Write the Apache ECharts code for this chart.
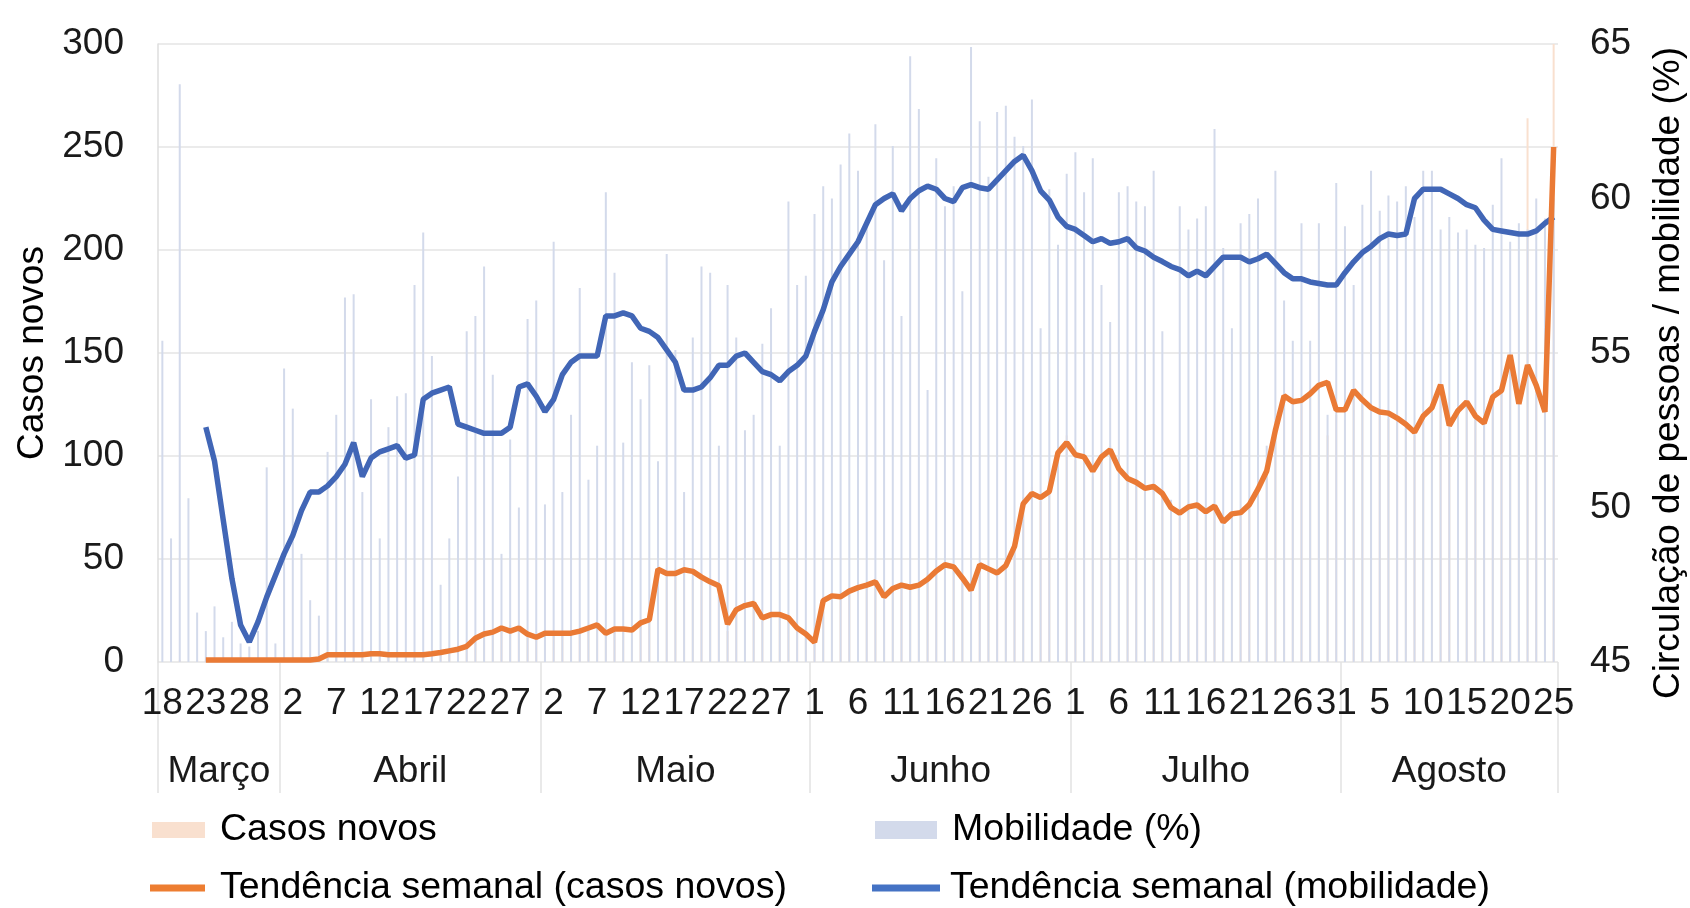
<!DOCTYPE html>
<html>
<head>
<meta charset="utf-8">
<script src="https://cdn.jsdelivr.net/npm/echarts@6/dist/echarts.min.js"></script>
<style>
html,body{margin:0;padding:0;background:#fff;}
#chart{width:1690px;height:908px;}
</style>
</head>
<body>
<div id="chart"></div>
<script>
// ---- DATA ----
const monthNames = ['Março','Abril','Maio','Junho','Julho','Agosto'];
const monthDays = [14, 30, 31, 30, 31, 25];   // days shown per month (18 Mar – 25 Ago)
const firstDay = 18;

// Daily new cases (bars, left axis)
const casosNovos = [
  0,0,1,0,1,
  1,2,0,1,1,2,1,0,1,2,1,1,2,2,
  3,4,5,3,2,4,5,3,4,3,4,3,
  5,4,6,7,9,12,14,
  13,15,18,14,12,11,15,13,14,16,15,17,19,13,16,17,14,18,21,
  50,42,45,48,40,42,38,35,
  15,26,28,30,20,24,22,20,15,12,9,
  32,30,33,36,35,38,40,30,36,38,35,37,42,45,48,44,38,33,48,45,42,47,
  60,80,85,78,84,105,110,98,100,90,100,105,92,88,86,84,86,
  80,60,70,77,74,72,76,66,70,74,78,82,90,115,130,125,128,132,130,110,120,
  124,132,128,122,120,118,116,114,110,120,122,135,115,120,126,118,116,130,132,150,125,
  264,135,120,300
];

// Daily mobility (%) (bars, right axis)
const mobilidade = [
  55.4,49.0,63.7,50.3,46.6,46.0,46.8,45.8,46.3,45.6,
  45.5,46.0,51.3,45.6,54.5,53.2,48.5,47.0,46.5,51.8,
  53.0,56.8,56.9,50.5,53.5,49.0,52.6,53.6,53.7,57.2,
  58.9,54.9,47.5,49.0,51.0,55.7,56.2,57.8,54.3,48.5,
  52.2,50.0,56.1,56.7,50.1,58.6,50.5,53.0,57.1,50.9,
  52.0,60.2,57.6,52.1,54.7,53.5,54.6,51.5,58.2,55.1,
  50.5,55.5,57.8,57.6,52.0,57.2,55.5,52.5,53.0,55.3,
  56.45,52.0,59.9,57.2,57.5,59.5,60.4,60.0,61.1,62.1,
  60.9,59.1,62.4,58.0,61.7,56.2,64.6,62.9,53.8,61.3,
  59.75,60.4,57.0,64.9,62.5,60.7,62.8,63.0,62.0,61.7,
  63.2,55.8,60.3,58.5,60.8,61.5,60.2,61.3,57.2,56.0,
  60.2,60.4,59.9,59.75,60.9,55.7,50.25,59.75,59.0,59.35,
  59.75,62.25,58.4,55.8,59.2,59.5,60.0,52.0,60.9,56.7,
  55.4,59.2,55.4,59.2,53.0,60.5,59.1,57.2,59.8,60.9,
  59.6,60.1,59.9,60.4,59.4,60.9,60.9,59.0,59.4,58.9,
  59.0,58.5,58.4,59.8,61.3,58.6,59.2,59.0,60.0,59.35,
  60.0
];

// Weekly trend of new cases (left axis)
const tendCasos = [
  null,null,null,null,null,
  1,1,1,1,1,1,1,1,1,1,1,1,1,1.5,
  3.5,3.5,3.5,3.5,3.5,4,4,3.5,3.5,3.5,3.5,3.5,
  4,4.6,5.4,6.2,7.6,11.5,13.6,
  14.5,16.5,15,16.5,13.5,12,14,14,14,14,15,16.5,18,14,16,16,15.5,19,20.5,
  45,43,43,44.8,44,41.2,38.9,37,
  18.4,25.4,27.4,28.4,21.4,23,23,21.4,16.5,13.6,9.6,
  29.8,32.1,31.7,34.4,36.1,37.3,38.9,31.7,35.7,37.3,36.3,37.3,40.2,44.2,47.2,46.2,40.8,34.9,47.2,45.2,43.2,46.8,
  56.1,76.8,81.8,79.8,82.8,101.6,106.5,100.6,99.6,92.7,99.6,103,93.7,89.1,87.2,84.3,85.2,
  81.8,74.9,72.3,75.3,76.2,72.9,75.7,68,71.9,72.5,76.4,83.9,92.7,112.5,129.2,126.3,127,130.2,134.3,135.8,122.4,
  122.4,131.8,127.3,123.4,121.4,120.8,118.4,115.4,111.5,119.4,123.4,134.6,114.8,122,126.3,119.4,116,128.7,131.8,149,125.3,
  144.1,134.3,121.4,250
];

// Weekly trend of mobility (right axis)
const tendMob = [
  null,null,null,null,null,
  52.6,51.5,49.6,47.7,46.2,45.65,46.3,47.1,47.8,48.5,
  49.1,49.9,50.5,50.5,50.7,51.0,51.4,52.1,51.0,51.6,
  51.8,51.9,52.0,51.6,51.7,53.5,53.7,53.8,53.9,52.7,
  52.6,52.5,52.4,52.4,52.4,52.6,53.9,54.0,53.6,53.1,
  53.5,54.3,54.7,54.9,54.9,54.9,56.2,56.2,56.3,56.2,
  55.8,55.7,55.5,55.1,54.7,53.8,53.8,53.9,54.2,54.6,
  54.6,54.9,55.0,54.7,54.4,54.3,54.1,54.4,54.6,54.9,
  55.7,56.4,57.3,57.8,58.2,58.6,59.2,59.8,60.0,60.15,
  59.6,60.0,60.25,60.4,60.3,60.0,59.9,60.35,60.45,60.35,
  60.3,60.6,60.9,61.2,61.4,60.9,60.25,59.95,59.4,59.1,
  59.0,58.8,58.6,58.7,58.55,58.6,58.7,58.4,58.3,58.1,
  57.96,57.8,57.7,57.5,57.65,57.5,57.8,58.1,58.1,58.1,
  57.95,58.05,58.2,57.9,57.6,57.4,57.4,57.3,57.25,57.2,
  57.2,57.6,57.95,58.25,58.45,58.7,58.85,58.8,58.85,60.0,
  60.3,60.3,60.3,60.15,60.0,59.8,59.7,59.3,59.0,58.95,
  58.9,58.85,58.85,58.95,59.2,59.4
];

const leftTicks = {min: 0, max: 300, interval: 50};
const rightTicks = {min: 45, max: 65, interval: 5};

// ---- derived categories ----
const dayLabels = [];
const monthStarts = [];
const monthMids = [];
let idx = 0;
monthDays.forEach((n, m) => {
  monthStarts.push(idx);
  monthMids.push(idx + n / 2);
  const start = (m === 0) ? firstDay : 1;
  for (let d = 0; d < n; d++) dayLabels.push(String(start + d));
  idx += n;
});
monthStarts.push(idx);
const total = idx;

const FONT = 'Liberation Sans, Arial, Helvetica, sans-serif';
const TXT = '#1a1a1a';
const FS = 37;
const LFS = 37.5;

const chart = echarts.init(document.getElementById('chart'), null, {renderer: 'canvas'});
chart.setOption({
  backgroundColor: '#ffffff',
  animation: false,
  textStyle: {fontFamily: FONT},
  grid: {left: 158, right: 132, top: 44, bottom: 246, outerBoundsMode: 'none'},
  legend: [
    {left: 152, top: 810, padding: 0, selectedMode: false, itemWidth: 53, itemHeight: 16,
     data: [{name: 'Casos novos', icon: 'rect'}],
     textStyle: {fontSize: LFS, color: '#000', fontFamily: FONT, padding: [0,0,0,10], lineHeight: 40}},
    {left: 875, top: 810, padding: 0, selectedMode: false, itemWidth: 62, itemHeight: 18,
     data: [{name: 'Mobilidade (%)', icon: 'rect'}],
     textStyle: {fontSize: LFS, color: '#000', fontFamily: FONT, padding: [0,0,0,10], lineHeight: 40}},
    {left: 150, top: 868, padding: 0, selectedMode: false, itemWidth: 55, itemHeight: 7,
     data: [{name: 'Tendência semanal (casos novos)', icon: 'rect'}],
     textStyle: {fontSize: LFS, color: '#000', fontFamily: FONT, padding: [0,0,0,10], lineHeight: 40}},
    {left: 872, top: 868, padding: 0, selectedMode: false, itemWidth: 68, itemHeight: 7,
     data: [{name: 'Tendência semanal (mobilidade)', icon: 'rect'}],
     textStyle: {fontSize: LFS, color: '#000', fontFamily: FONT, padding: [0,0,0,5], lineHeight: 40}}
  ],
  xAxis: [
    {
      type: 'category', data: dayLabels, boundaryGap: true,
      axisLine: {show: false}, axisTick: {show: false},
      axisLabel: {interval: 4, fontSize: FS, color: TXT, margin: 23, fontFamily: FONT, hideOverlap: false},
      splitLine: {show: false}
    },
    {
      type: 'value', min: 0, max: total, position: 'bottom',
      axisLine: {show: false},
      splitLine: {show: false},
      axisTick: {show: true, customValues: monthStarts, length: 131, inside: false,
                 lineStyle: {color: '#e2e2e2', width: 1.5}},
      axisLabel: {customValues: monthMids, fontSize: FS, color: TXT, margin: 91, fontFamily: FONT,
        formatter: function (v) {
          for (let i = 0; i < monthMids.length; i++) if (Math.abs(monthMids[i] - v) < 0.01) return monthNames[i];
          return '';
        }}
    }
  ],
  yAxis: [
    {
      type: 'value', position: 'left', min: leftTicks.min, max: leftTicks.max, interval: leftTicks.interval,
      name: 'Casos novos', nameLocation: 'middle', nameGap: 104,
      nameTextStyle: {fontSize: FS, color: '#000', fontFamily: FONT},
      axisLine: {show: true, lineStyle: {color: '#dedede', width: 1.5}},
      axisTick: {show: false},
      axisLabel: {fontSize: FS, color: TXT, margin: 34, fontFamily: FONT},
      splitLine: {show: true, lineStyle: {color: '#e4e4e4', width: 1.5}}
    },
    {
      type: 'value', position: 'right', min: rightTicks.min, max: rightTicks.max, interval: rightTicks.interval,
      name: 'Circulação de pessoas / mobilidade (%)', nameLocation: 'middle', nameGap: 92, nameRotate: 90,
      nameTextStyle: {fontSize: FS, color: '#000', fontFamily: FONT, padding: [0, 40, 0, 0]},
      axisLine: {show: false}, axisTick: {show: false},
      axisLabel: {fontSize: FS, color: TXT, margin: 32, fontFamily: FONT},
      splitLine: {show: false}
    }
  ],
  series: [
    {
      name: 'Casos novos', type: 'bar', xAxisIndex: 0, yAxisIndex: 0, data: casosNovos,
      barWidth: 2, barGap: '-100%', itemStyle: {color: '#f9e0cf'}, z: 1
    },
    {
      name: 'Mobilidade (%)', type: 'bar', xAxisIndex: 0, yAxisIndex: 1, data: mobilidade,
      barWidth: 2, barGap: '-100%', itemStyle: {color: '#d3daeb'}, z: 1
    },
    {
      name: 'Tendência semanal (mobilidade)', type: 'line', xAxisIndex: 0, yAxisIndex: 1, data: tendMob,
      showSymbol: false, symbol: 'none', connectNulls: false,
      lineStyle: {color: '#4166b6', width: 5.5}, itemStyle: {color: '#4472c4'}, z: 3
    },
    {
      name: 'Tendência semanal (casos novos)', type: 'line', xAxisIndex: 0, yAxisIndex: 0, data: tendCasos,
      showSymbol: false, symbol: 'none', connectNulls: false,
      lineStyle: {color: '#ea7a35', width: 5.5}, itemStyle: {color: '#ed7d31'}, z: 4
    }
  ]
});
</script>
</body>
</html>
